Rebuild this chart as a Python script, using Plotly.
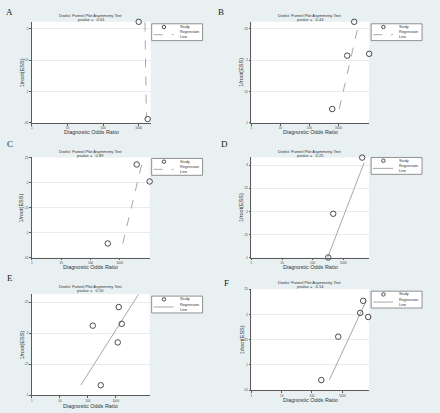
import plotly.graph_objects as go

W, H = 440, 413

# ---------------- data ----------------
panel_labels = ["A", "B", "C", "D", "E", "F"]
pvalues = ["0.61", "0.44", "0.89", "0.25", "0.10", "0.14"]

x_tick_vals = [1, 10, 100, 1000]
x_tick_text = ["1", "10", "100", "1000"]

A_dor = [1000, 2170, 1790]
A_ess = [0.211, 0.206, 0.056]
A_line_dor = [1500, 1645]
A_line_ess = [0.210, 0.058]
A_yticks = [0.05, 0.10, 0.15, 0.20]

B_dor = [3565, 2042, 11720, 621]
B_ess = [0.261, 0.207, 0.210, 0.122]
B_line_dor = [1081, 5297]
B_line_ess = [0.122, 0.261]
B_yticks = [0.10, 0.15, 0.20, 0.25]

C_dor = [3802, 10540, 390]
C_ess = [0.236, 0.202, 0.078]
C_line_dor = [1267, 5626]
C_line_ess = [0.078, 0.236]
C_yticks = [0.05, 0.10, 0.15, 0.20, 0.25]

D_dor = [4159, 7047, 472, 324]
D_ess = [0.317, 0.302, 0.195, 0.100]
D_line_dor = [301, 4831]
D_line_ess = [0.098, 0.306]
D_yticks = [0.10, 0.15, 0.20, 0.25, 0.30]

E_dor = [16370, 1280, 151, 1638, 1179, 291]
E_ess = [0.263, 0.242, 0.212, 0.215, 0.185, 0.116]
E_line_dor = [56, 6628]
E_line_ess = [0.116, 0.263]
E_yticks = [0.10, 0.15, 0.20, 0.25]

F_dor = [4929, 3926, 7205, 738, 203]
F_ess = [0.227, 0.203, 0.195, 0.156, 0.070]
F_line_dor = [373, 6194]
F_line_ess = [0.070, 0.227]
F_yticks = [0.05, 0.10, 0.15, 0.20, 0.25]

panels = [
    (A_dor, A_ess, A_line_dor, A_line_ess, A_yticks),
    (B_dor, B_ess, B_line_dor, B_line_ess, B_yticks),
    (C_dor, C_ess, C_line_dor, C_line_ess, C_yticks),
    (D_dor, D_ess, D_line_dor, D_line_ess, D_yticks),
    (E_dor, E_ess, E_line_dor, E_line_ess, E_yticks),
    (F_dor, F_ess, F_line_dor, F_line_ess, F_yticks),
]

# ---------------- layout geometry (pixels) ----------------
boxes = [
    (31, 150, 20, 122),
    (251, 369, 20, 122),
    (31, 149, 157, 258),
    (251, 369, 157, 258),
    (31, 149, 295, 397),
    (251, 369, 290, 392),
]
x_ranges = [[0, 3.336], [0, 4.069], [0, 4.023], [0, 3.848], [0, 4.214], [0, 3.89]]
y_ranges = [[0.05, 0.211], [0.10, 0.261], [0.05, 0.25], [0.10, 0.3172], [0.10, 0.2628], [0.05, 0.25]]
line_dash = ["dash", "dash", "dash", "solid", "solid", "solid"]
label_pos = [(9, 10), (220, 10), (9, 143), (224, 143), (9, 279), (226, 284)]
title_y = [13.5, 13.5, 150.5, 150.5, 287, 283]
xtitle_y = [131, 131, 268, 268, 407.5, 402]
legend_y = [22, 22, 158, 157, 297, 292]

BG = "#E8F0F2"
MARK = "#4a4a4a"
LINEC = "#a8a8a8"
AXC = "#5a5a5a"
FONT = "Liberation Sans"


def px(x):
    return x / W


def py(y):
    return 1 - y / H


def note(x, y, text, size, xanchor="center", **kw):
    return dict(x=px(x), y=py(y), xref="paper", yref="paper", text=text,
                showarrow=False, xanchor=xanchor, yanchor="middle",
                font=dict(size=size, family=kw.pop("family", FONT), color=kw.pop("color", "#333")),
                **kw)


fig = go.Figure()
annotations = []
shapes = []

for i, (dor, ess, ldor, less, yt) in enumerate(panels):
    n = "" if i == 0 else str(i + 1)
    xa, ya = "x" + n, "y" + n
    fig.add_trace(go.Scatter(
        x=ldor, y=less, mode="lines", xaxis=xa, yaxis=ya,
        line=dict(color=LINEC, width=1, dash=line_dash[i]),
        showlegend=False, hoverinfo="skip"))
    fig.add_trace(go.Scatter(
        x=dor, y=ess, mode="markers", xaxis=xa, yaxis=ya,
        marker=dict(symbol="circle-open", size=5.5, color=MARK, line=dict(width=1, color=MARK)),
        cliponaxis=False, showlegend=False))

    x0, x1, y0, y1 = boxes[i]
    fig.layout["xaxis" + n] = dict(
        domain=[px(x0), px(x1)], anchor=ya, type="log", range=x_ranges[i],
        tickvals=x_tick_vals, ticktext=x_tick_text, ticks="outside", ticklen=2,
        tickwidth=0.8, tickcolor=AXC, tickfont=dict(size=3, color="#444", family=FONT),
        showgrid=False, zeroline=False, showline=True, linecolor=AXC, linewidth=0.8)
    fig.layout["yaxis" + n] = dict(
        domain=[py(y1), py(y0)], anchor=xa, range=y_ranges[i],
        tickvals=yt, ticktext=[("%.2f" % v).lstrip("0").rstrip("0") for v in yt],
        ticks="outside", ticklen=2, tickwidth=0.8, tickcolor=AXC,
        tickfont=dict(size=3, color="#444", family=FONT),
        showgrid=True, gridcolor="#E4ECEE", gridwidth=1, zeroline=False,
        showline=True, linecolor=AXC, linewidth=0.8)

    cx = (x0 + x1) / 2
    ox = 0 if i % 2 == 0 else 220
    lx, ly = label_pos[i]
    annotations.append(note(lx, ly, panel_labels[i], 9, family="Liberation Serif", color="#222"))
    annotations.append(note(cx, title_y[i], "Deeks' Funnel Plot Asymmetry Test", 4))
    annotations.append(note(cx, title_y[i] + 4.2, "pvalue =   " + pvalues[i], 4))
    annotations.append(note(cx, xtitle_y[i], "Diagnostic Odds Ratio", 5.5))
    annotations.append(note(ox + 21, (y0 + y1) / 2, "1/root(ESS)", 5.5, textangle=-90))

    lgy = legend_y[i]
    shapes.append(dict(type="rect", xref="paper", yref="paper",
                       x0=px(ox + 151), x1=px(ox + 202), y0=py(lgy), y1=py(lgy + 17),
                       fillcolor="white", line=dict(color="#777", width=0.8)))
    shapes.append(dict(type="circle", xref="paper", yref="paper",
                       x0=px(ox + 161.5), x1=px(ox + 165), y0=py(lgy + 1.5), y1=py(lgy + 5),
                       line=dict(color=MARK, width=1)))
    shapes.append(dict(type="line", xref="paper", yref="paper",
                       x0=px(ox + 153), x1=px(ox + 173), y0=py(lgy + 11), y1=py(lgy + 11),
                       line=dict(color=LINEC, width=1, dash=line_dash[i])))
    annotations.append(note(ox + 177, lgy + 3.3, "Study", 3.8, xanchor="left"))
    annotations.append(note(ox + 177, lgy + 11, "Regression<br>Line", 3.8, xanchor="left", align="left"))

fig.update_layout(
    width=W, height=H, margin=dict(l=0, r=0, t=0, b=0),
    paper_bgcolor=BG, plot_bgcolor="white",
    annotations=annotations, shapes=shapes, showlegend=False,
    font=dict(family=FONT),
)

fig.write_html("out.html", config={"displayModeBar": False},
               post_script="document.body.style.margin='0';document.body.style.overflow='hidden';")
